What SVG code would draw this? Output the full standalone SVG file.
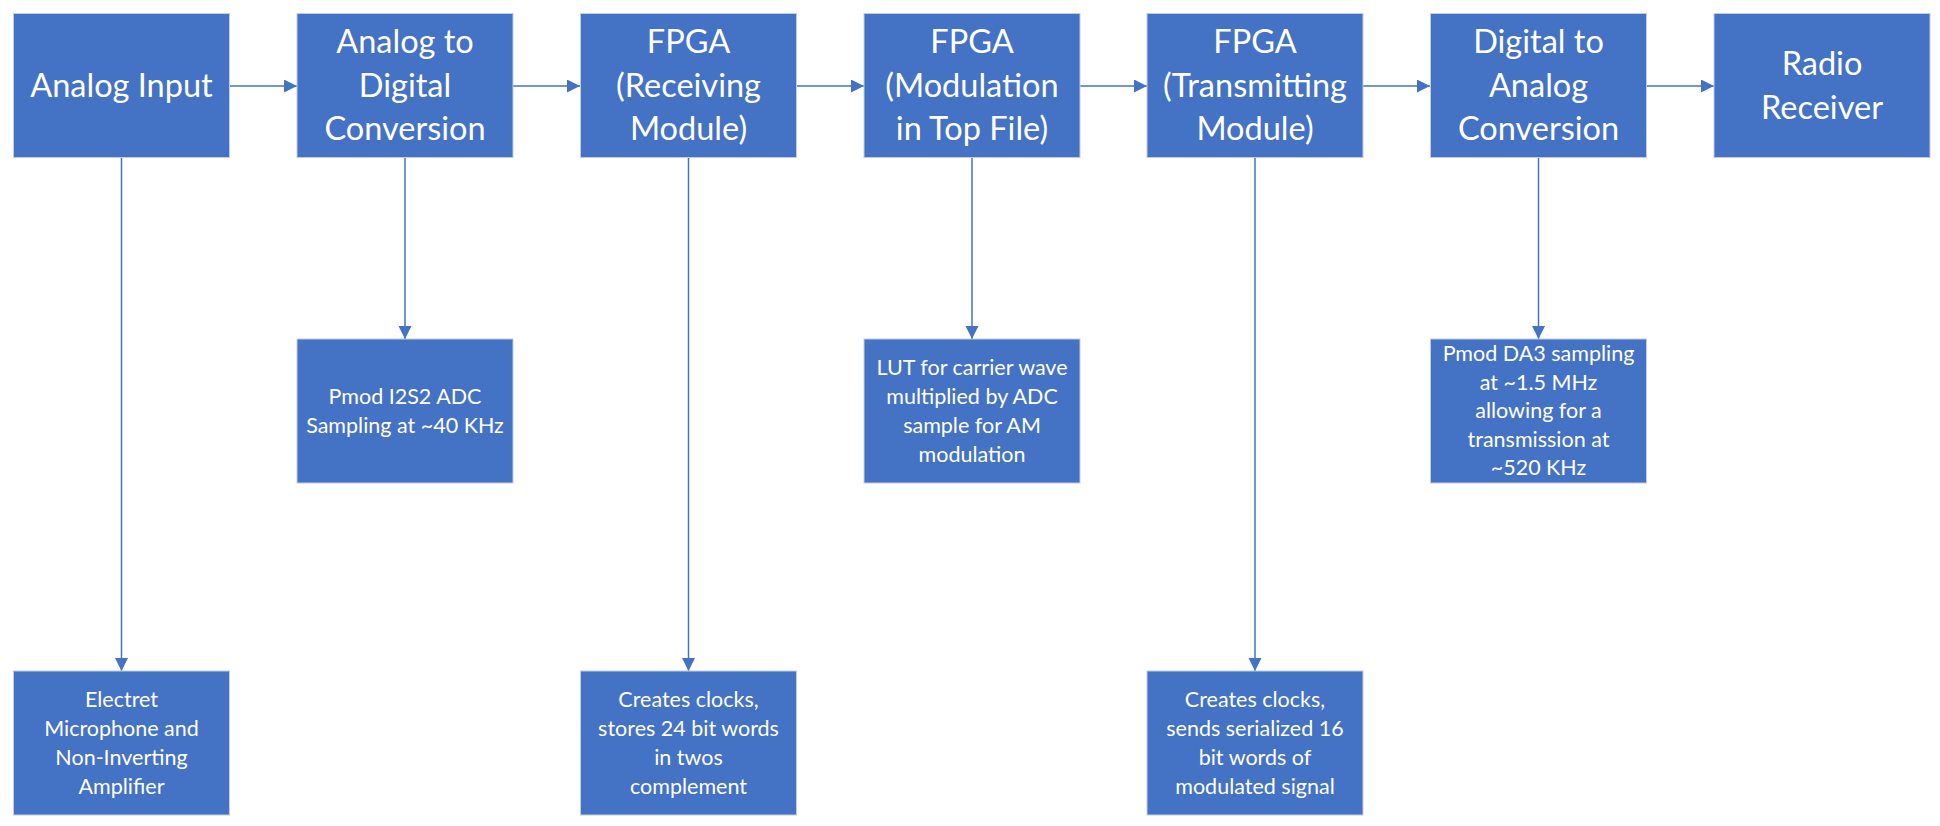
<svg xmlns="http://www.w3.org/2000/svg" width="1940" height="826" viewBox="0 0 1940 826">
<style>
.box{fill:#4472C4;stroke:#c3cbe0;stroke-width:1}
.t{font-family:Lato,"Liberation Sans",sans-serif;font-size:32.5px;fill:#fff;text-anchor:middle}
.s{font-family:Lato,"Liberation Sans",sans-serif;font-size:21.5px;fill:#fff;text-anchor:middle}
.c{stroke:#4472C4;stroke-width:1.5;fill:none;marker-end:url(#ah)}
</style>
<defs>
<marker id="ah" markerUnits="userSpaceOnUse" markerWidth="14" markerHeight="14" refX="13" refY="6.5" orient="auto">
<path d="M0,0 L13,6.5 L0,13 z" fill="#4472C4"/>
</marker>
</defs>
<rect width="1940" height="826" fill="#fff"/>
<g id="connectors">
<path class="c" d="M229.5,86 H297"/>
<path class="c" d="M513,86 H580"/>
<path class="c" d="M796,86 H864"/>
<path class="c" d="M1080,86 H1147"/>
<path class="c" d="M1363,86 H1430"/>
<path class="c" d="M1646,86 H1714"/>
<path class="c" d="M121.5,157.5 V671"/>
<path class="c" d="M405,157.5 V339"/>
<path class="c" d="M688.5,157.5 V671"/>
<path class="c" d="M972,157.5 V339"/>
<path class="c" d="M1255,157.5 V671"/>
<path class="c" d="M1538.5,157.5 V339"/>
</g>
<g id="analog-input">
<rect class="box" x="13.5" y="13.5" width="216" height="144"/>
<text class="t" x="121.5" y="96.5">Analog Input</text>
</g>
<g id="adc">
<rect class="box" x="297" y="13.5" width="216" height="144"/>
<text class="t" x="405" y="53">Analog to</text>
<text class="t" x="405" y="96.5">Digital</text>
<text class="t" x="405" y="140">Conversion</text>
</g>
<g id="fpga-rx">
<rect class="box" x="580.5" y="13.5" width="216" height="144"/>
<text class="t" x="688.5" y="53">FPGA</text>
<text class="t" x="688.5" y="96.5">(Receiving</text>
<text class="t" x="688.5" y="140">Module)</text>
</g>
<g id="fpga-mod">
<rect class="box" x="864" y="13.5" width="216" height="144"/>
<text class="t" x="972" y="53">FPGA</text>
<text class="t" x="972" y="96.5">(Modulation</text>
<text class="t" x="972" y="140">in Top File)</text>
</g>
<g id="fpga-tx">
<rect class="box" x="1147" y="13.5" width="216" height="144"/>
<text class="t" x="1255" y="53">FPGA</text>
<text class="t" x="1255" y="96.5">(Transmitting</text>
<text class="t" x="1255" y="140">Module)</text>
</g>
<g id="dac">
<rect class="box" x="1430.5" y="13.5" width="216" height="144"/>
<text class="t" x="1538.5" y="53">Digital to</text>
<text class="t" x="1538.5" y="96.5">Analog</text>
<text class="t" x="1538.5" y="140">Conversion</text>
</g>
<g id="radio">
<rect class="box" x="1714" y="13.5" width="216" height="144"/>
<text class="t" x="1822" y="75">Radio</text>
<text class="t" x="1822" y="118.5">Receiver</text>
</g>
<g id="mic">
<rect class="box" x="13.5" y="671" width="216" height="144"/>
<text class="s" x="121.5" y="707">Electret</text>
<text class="s" x="121.5" y="736">Microphone and</text>
<text class="s" x="121.5" y="765">Non-Inverting</text>
<text class="s" x="121.5" y="794">Amplifier</text>
</g>
<g id="i2s2">
<rect class="box" x="297" y="339" width="216" height="144"/>
<text class="s" x="405" y="404">Pmod I2S2 ADC</text>
<text class="s" x="405" y="433">Sampling at ~40 KHz</text>
</g>
<g id="rx-detail">
<rect class="box" x="580.5" y="671" width="216" height="144"/>
<text class="s" x="688.5" y="707">Creates clocks,</text>
<text class="s" x="688.5" y="736">stores 24 bit words</text>
<text class="s" x="688.5" y="765">in twos</text>
<text class="s" x="688.5" y="794">complement</text>
</g>
<g id="lut">
<rect class="box" x="864" y="339" width="216" height="144"/>
<text class="s" x="972" y="375">LUT for carrier wave</text>
<text class="s" x="972" y="404">multiplied by ADC</text>
<text class="s" x="972" y="433">sample for AM</text>
<text class="s" x="972" y="462">modulation</text>
</g>
<g id="tx-detail">
<rect class="box" x="1147" y="671" width="216" height="144"/>
<text class="s" x="1255" y="707">Creates clocks,</text>
<text class="s" x="1255" y="736">sends serialized 16</text>
<text class="s" x="1255" y="765">bit words of</text>
<text class="s" x="1255" y="794">modulated signal</text>
</g>
<g id="da3">
<rect class="box" x="1430.5" y="339" width="216" height="144"/>
<text class="s" x="1538.5" y="361">Pmod DA3 sampling</text>
<text class="s" x="1538.5" y="389.5">at ~1.5 MHz</text>
<text class="s" x="1538.5" y="418">allowing for a</text>
<text class="s" x="1538.5" y="446.5">transmission at</text>
<text class="s" x="1538.5" y="475">~520 KHz</text>
</g>
</svg>
